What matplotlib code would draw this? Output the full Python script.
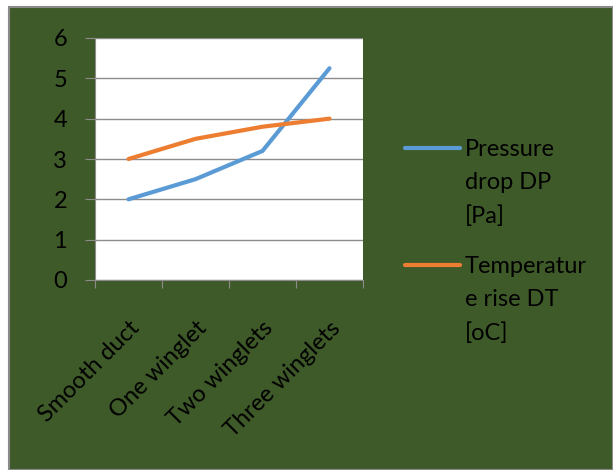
import matplotlib.pyplot as plt
from matplotlib.patches import Rectangle
from matplotlib.lines import Line2D

categories = ['Smooth duct', 'One winglet', 'Two winglets', 'Three winglets']
pressure_drop = [2.0, 2.5, 3.2, 5.25]
temp_rise = [3.0, 3.5, 3.8, 4.0]
labels = ['Pressure\ndrop DP\n[Pa]', 'Temperatur\ne rise DT\n[oC]']
colors = ['#5b9bd5', '#ed7d31']

plt.rcParams['font.family'] = ['Lato', 'DejaVu Sans']

fig = plt.figure(figsize=(6.13, 4.70), dpi=100)
fig.patch.set_facecolor('white')
bg = Rectangle((9/613, 0), 1 - 9/613, 1 - 7/470, transform=fig.transFigure,
               facecolor='#3f5a29', edgecolor='#8a8a8a', linewidth=1.5, zorder=-10)
fig.patches.append(bg)

ax = fig.add_axes([95/613, 190/470, 268/613, 242/470])
ax.set_facecolor('white')

x = range(len(categories))
ax.plot(x, pressure_drop, color=colors[0], lw=3, solid_capstyle='round')
ax.plot(x, temp_rise, color=colors[1], lw=3, solid_capstyle='round')

ax.set_xlim(-0.5, 3.5)
ax.set_ylim(0, 6)
ax.set_yticks(range(7))
ax.yaxis.grid(True, color='#8c8c8c', lw=1)
ax.set_axisbelow(True)

ax.set_xticks([-0.5, 0.5, 1.5, 2.5, 3.5])
ax.set_xticklabels([])
ax.set_xticks(list(x), minor=True)
ax.set_xticklabels(categories, minor=True, rotation=45, ha='right',
                   rotation_mode='anchor', fontsize=17, color='black')
ax.tick_params(axis='x', which='minor', length=0, pad=27)
ax.tick_params(axis='x', which='major', length=6, color='#8c8c8c', direction='out')
ax.tick_params(axis='y', length=7, color='#8c8c8c', labelsize=17, pad=13)

for s in ['top', 'right']:
    ax.spines[s].set_visible(False)
for s in ['left', 'bottom']:
    ax.spines[s].set_color('#8c8c8c')

# legend drawn by hand so the key sits on the first text line
for i, (lab, c) in enumerate(zip(labels, colors)):
    ytop = 148 + i * 117
    yf = 1 - ytop / 470
    fig.add_artist(Line2D([405/613, 460/613], [yf, yf], color=c, lw=3,
                          solid_capstyle='round', transform=fig.transFigure))
    fig.text(465/613, 1 - (ytop - 9) / 470, lab, fontsize=17, va='top',
             ha='left', linespacing=1.7)

fig.savefig('out.png', dpi=100)
